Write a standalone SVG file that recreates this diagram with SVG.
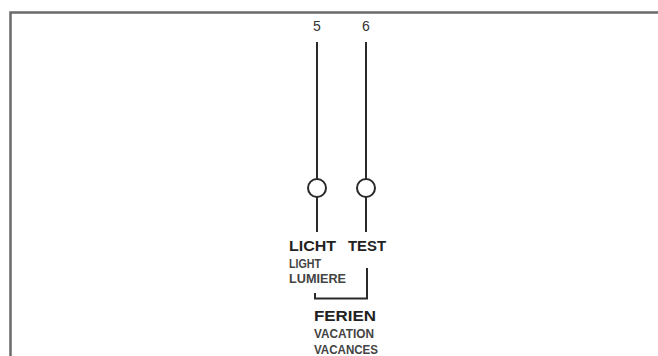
<svg xmlns="http://www.w3.org/2000/svg" width="658" height="356" viewBox="0 0 658 356">
<style>
.frame{stroke:#6a6a6a;stroke-width:2.5;fill:none}
.wire{stroke:#2a2a2a;stroke-width:2;fill:none}
.lamp{stroke:#2a2a2a;stroke-width:2;fill:#fff}
.num{font-family:"Liberation Sans",Arial,sans-serif;font-size:14px;fill:#333;text-anchor:middle}
.big{font-family:"Liberation Sans",Arial,sans-serif;font-weight:bold;font-size:14px;fill:#222}
.small{font-family:"Liberation Sans",Arial,sans-serif;font-weight:bold;font-size:12px;fill:#444}
</style>
<rect width="658" height="356" fill="#fff"/>
<g id="frame"><path class="frame" d="M10.5,356 V12.5 H658"/></g>
<g id="connectors">
<line class="wire" x1="317" y1="42" x2="317" y2="179"/>
<line class="wire" x1="317" y1="197" x2="317" y2="232"/>
<line class="wire" x1="366" y1="42" x2="366" y2="179"/>
<line class="wire" x1="366" y1="197" x2="366" y2="232"/>
<path class="wire" d="M367,268 V298.5 H315 V293"/>
</g>
<g id="terminal5"><text class="num" x="317" y="31">5</text></g>
<g id="terminal6"><text class="num" x="366" y="31">6</text></g>
<g id="lamp-licht"><circle class="lamp" cx="317" cy="188" r="9"/></g>
<g id="lamp-test"><circle class="lamp" cx="366" cy="188" r="9"/></g>
<g id="label-licht">
<text class="big" x="289" y="251" textLength="47" lengthAdjust="spacingAndGlyphs">LICHT</text>
<text class="small" x="289" y="268" textLength="32" lengthAdjust="spacingAndGlyphs">LIGHT</text>
<text class="small" x="289" y="283" textLength="57" lengthAdjust="spacingAndGlyphs">LUMIERE</text>
</g>
<g id="label-test"><text class="big" x="348" y="251" textLength="38" lengthAdjust="spacingAndGlyphs">TEST</text></g>
<g id="label-ferien">
<text class="big" x="314" y="321" font-size="16" textLength="62" lengthAdjust="spacingAndGlyphs">FERIEN</text>
<text class="small" x="314" y="338" textLength="60" lengthAdjust="spacingAndGlyphs">VACATION</text>
<text class="small" x="314" y="354" textLength="64" lengthAdjust="spacingAndGlyphs">VACANCES</text>
</g>
</svg>
